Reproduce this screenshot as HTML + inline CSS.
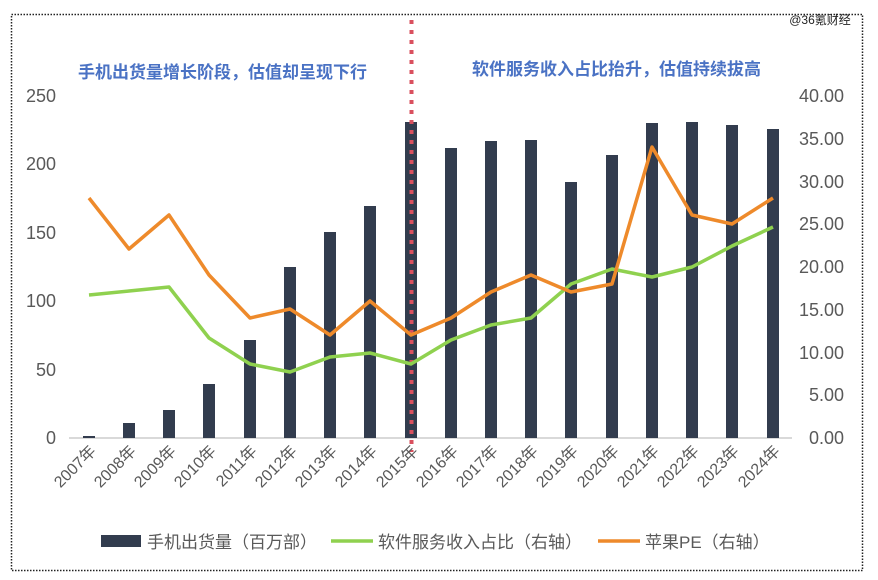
<!DOCTYPE html>
<html><head><meta charset="utf-8"><style>
body{margin:0;background:#fff;}
svg{display:block;font-family:"Liberation Sans","Noto Sans CJK SC",sans-serif;}
</style></head><body>
<svg width="878" height="580" viewBox="0 0 878 580" xmlns="http://www.w3.org/2000/svg">
<rect x="11.5" y="14.5" width="851" height="556" fill="none" stroke="#222" stroke-width="1.5" stroke-dasharray="1.5 1.5"/>
<text x="820" y="24" font-size="12" fill="#222" text-anchor="middle">@36氪财经</text>
<text x="78" y="78" font-size="17" font-weight="bold" fill="#4a72c4">手机出货量增长阶段，估值却呈现下行</text>
<text x="472" y="75" font-size="17" font-weight="bold" fill="#4a72c4">软件服务收入占比抬升，估值持续拔高</text>
<g font-size="18" fill="#595959" text-anchor="end">
<text x="56" y="444">0</text><text x="56" y="376">50</text><text x="56" y="307">100</text><text x="56" y="239">150</text><text x="56" y="170">200</text><text x="56" y="102">250</text>
</g>
<g font-size="18" fill="#595959" text-anchor="end">
<text x="844" y="444">0.00</text><text x="844" y="401">5.00</text><text x="844" y="359">10.00</text><text x="844" y="316">15.00</text><text x="844" y="273">20.00</text><text x="844" y="230">25.00</text><text x="844" y="188">30.00</text><text x="844" y="145">35.00</text><text x="844" y="102">40.00</text>
</g>
<line x1="69" y1="438" x2="792" y2="438" stroke="#d9d9d9" stroke-width="2"/>
<g fill="#323c4e">
<rect x="83" y="436" width="12" height="2"/>
<rect x="123" y="423" width="12" height="15"/>
<rect x="163" y="410" width="12" height="28"/>
<rect x="203" y="384" width="12" height="54"/>
<rect x="244" y="340" width="12" height="98"/>
<rect x="284" y="267" width="12" height="171"/>
<rect x="324" y="232" width="12" height="206"/>
<rect x="364" y="206" width="12" height="232"/>
<rect x="405" y="122" width="12" height="316"/>
<rect x="445" y="148" width="12" height="290"/>
<rect x="485" y="141" width="12" height="297"/>
<rect x="525" y="140" width="12" height="298"/>
<rect x="565" y="182" width="12" height="256"/>
<rect x="606" y="155" width="12" height="283"/>
<rect x="646" y="123" width="12" height="315"/>
<rect x="686" y="122" width="12" height="316"/>
<rect x="726" y="125" width="12" height="313"/>
<rect x="767" y="129" width="12" height="309"/>
</g>
<line x1="411.5" y1="20" x2="411.5" y2="452" stroke="#d9505e" stroke-width="4" stroke-dasharray="4 6"/>
<polyline fill="none" stroke="#8fd14f" stroke-width="3.5" stroke-linejoin="round" points="89,295 129,291 169,287 209,338 250,364 290,372 330,357 370,353 411,364 451,340 491,325 531,318 571,284 612,269 652,277 692,267 732,246 773,227"/>
<polyline fill="none" stroke="#ee8a2b" stroke-width="3.5" stroke-linejoin="round" points="89,198 129,249 169,215 209,275 250,318 290,309 330,335 370,301 411,335 451,318 491,292 531,275 571,292 612,284 652,147 692,215 732,224 773,198"/>
<g font-size="16" fill="#595959" text-anchor="end">
<text transform="translate(97,452) rotate(-45)">2007年</text>
<text transform="translate(137,452) rotate(-45)">2008年</text>
<text transform="translate(177,452) rotate(-45)">2009年</text>
<text transform="translate(217,452) rotate(-45)">2010年</text>
<text transform="translate(258,452) rotate(-45)">2011年</text>
<text transform="translate(298,452) rotate(-45)">2012年</text>
<text transform="translate(338,452) rotate(-45)">2013年</text>
<text transform="translate(378,452) rotate(-45)">2014年</text>
<text transform="translate(419,452) rotate(-45)">2015年</text>
<text transform="translate(459,452) rotate(-45)">2016年</text>
<text transform="translate(499,452) rotate(-45)">2017年</text>
<text transform="translate(539,452) rotate(-45)">2018年</text>
<text transform="translate(579,452) rotate(-45)">2019年</text>
<text transform="translate(620,452) rotate(-45)">2020年</text>
<text transform="translate(660,452) rotate(-45)">2021年</text>
<text transform="translate(700,452) rotate(-45)">2022年</text>
<text transform="translate(740,452) rotate(-45)">2023年</text>
<text transform="translate(781,452) rotate(-45)">2024年</text>
</g>
<rect x="101" y="535" width="40" height="12" fill="#323c4e"/>
<text x="147" y="548" font-size="17" fill="#595959">手机出货量（百万部）</text>
<line x1="331" y1="541" x2="373" y2="541" stroke="#8fd14f" stroke-width="3.5"/>
<text x="378" y="548" font-size="17" fill="#595959">软件服务收入占比（右轴）</text>
<line x1="598" y1="541" x2="640" y2="541" stroke="#ee8a2b" stroke-width="3.5"/>
<text x="645" y="548" font-size="17" fill="#595959">苹果PE（右轴）</text>
</svg>
</body></html>
